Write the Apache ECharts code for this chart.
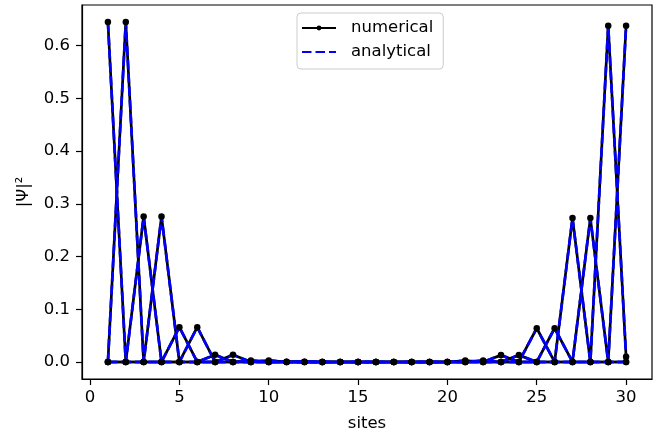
<!DOCTYPE html>
<html>
<head>
<meta charset="utf-8">
<script src="https://cdn.jsdelivr.net/npm/echarts@6/dist/echarts.min.js"></script>
<style>
html,body{margin:0;padding:0;background:#fff;}
#chart{width:654px;height:437px;}
</style>
</head>
<body>
<div id="chart"></div>
<script>
const sites = [1,2,3,4,5,6,7,8,9,10,11,12,13,14,15,16,17,18,19,20,21,22,23,24,25,26,27,28,29,30];

// numerical |psi|^2
const numLeftA  = [0.645,0,0.276,0,0.066,0,0.0135,0,0.003,0,0.0006,0,0,0,0,0,0,0,0,0,0,0,0,0,0,0,0,0,0,0];
const numLeftB  = [0,0.645,0,0.276,0,0.066,0,0.0135,0,0.003,0,0.0006,0,0,0,0,0,0,0,0,0,0,0,0,0,0,0,0,0,0];
const numRightA = [0,0,0,0,0,0,0,0,0,0,0,0,0,0,0,0,0,0,0,0,0,0.0027,0,0.013,0,0.064,0,0.273,0,0.638];
const numRightB = [0,0,0,0,0,0,0,0,0,0,0,0,0,0,0,0,0,0,0,0,0.0027,0,0.013,0,0.064,0,0.273,0,0.638,0.01];

// analytical |psi|^2
const anaLeftA  = [0.645,0,0.276,0,0.066,0,0.0135,0,0.003,0,0.0006,0,0,0,0,0,0,0,0,0,0,0,0,0,0,0,0,0,0,0];
const anaLeftB  = [0,0.645,0,0.276,0,0.066,0,0.0135,0,0.003,0,0.0006,0,0,0,0,0,0,0,0,0,0,0,0,0,0,0,0,0,0];
const anaRightA = [0,0,0,0,0,0,0,0,0,0,0,0,0,0,0,0,0,0,0,0,0,0.0027,0,0.013,0,0.064,0,0.273,0,0.638];
const anaRightB = [0,0,0,0,0,0,0,0,0,0,0,0,0,0,0,0,0,0,0,0,0.0027,0,0.013,0,0.064,0,0.273,0,0.638,0.01];

const xTicks = [0,5,10,15,20,25,30];
const yTicks = [0,0.1,0.2,0.3,0.4,0.5,0.6];

const numericalSets = [numLeftA, numLeftB, numRightA, numRightB];
const analyticalSets = [anaLeftA, anaLeftB, anaRightA, anaRightB];

function pts(vals){ return sites.map((s,i)=>[s, vals[i]]); }

const FONT = 'DejaVu Sans';
const FS = 16.5;

const series = [];
for (let k = 0; k < 4; k++) {
  series.push({
    name: 'numerical', type: 'line', data: pts(numericalSets[k]),
    symbol: 'circle', symbolSize: 6.5, showSymbol: true,
    lineStyle: {color: '#000000', width: 2.7},
    itemStyle: {color: '#000000'},
    animation: false, z: 2
  });
}
for (let k = 0; k < 4; k++) {
  series.push({
    name: 'analytical', type: 'line', data: pts(analyticalSets[k]),
    symbol: 'none', showSymbol: false,
    lineStyle: {color: '#0000ff', width: 2.7, type: [9.5, 4]},
    itemStyle: {color: '#0000ff'},
    animation: false, z: 2
  });
}

const chart = echarts.init(document.getElementById('chart'), null, {renderer: 'canvas'});
chart.setOption({
  animation: false,
  backgroundColor: '#ffffff',
  textStyle: {fontFamily: FONT},
  grid: {left: 82, right: 2, top: 5, bottom: 57, show: true, borderColor: '#000', borderWidth: 1.2, containLabel: false},
  legend: {
    data: [
      {name: 'numerical'},
      {name: 'analytical', itemStyle: {opacity: 0}}
    ],
    orient: 'vertical', left: 297, top: 13,
    itemWidth: 34, itemHeight: 6, itemGap: 6,
    padding: [6, 10, 8, 4],
    borderColor: '#cccccc', borderWidth: 1, borderRadius: 4,
    backgroundColor: 'rgba(255,255,255,0.8)',
    textStyle: {fontFamily: FONT, fontSize: FS, color: '#000', padding: [0, 0, 0, 10], lineHeight: 18},
    selectedMode: false
  },
  xAxis: {
    type: 'value', min: -0.45, max: 31.45,
    name: 'sites', nameLocation: 'middle', nameGap: 36,
    nameTextStyle: {fontFamily: FONT, fontSize: FS, color: '#000'},
    axisLine: {show: true, onZero: false, lineStyle: {color: '#000', width: 1.2}},
    axisTick: {show: true, inside: false, length: 6, lineStyle: {color: '#000', width: 1.2}, customValues: xTicks},
    axisLabel: {show: true, margin: 10, fontFamily: FONT, fontSize: FS, color: '#000', customValues: xTicks, formatter: v => String(v)},
    splitLine: {show: false}
  },
  yAxis: {
    type: 'value', min: -0.0323, max: 0.6773,
    name: '|Ψ|²', nameLocation: 'middle', nameGap: 50, nameRotate: 90,
    nameTextStyle: {fontFamily: FONT, fontSize: FS, color: '#000'},
    axisLine: {show: true, onZero: false, lineStyle: {color: '#000', width: 1.2}},
    axisTick: {show: true, inside: false, length: 6, lineStyle: {color: '#000', width: 1.2}, customValues: yTicks},
    axisLabel: {show: true, margin: 12, fontFamily: FONT, fontSize: FS, color: '#000', customValues: yTicks, formatter: v => v.toFixed(1)},
    splitLine: {show: false}
  },
  series: series
});
</script>
</body>
</html>
